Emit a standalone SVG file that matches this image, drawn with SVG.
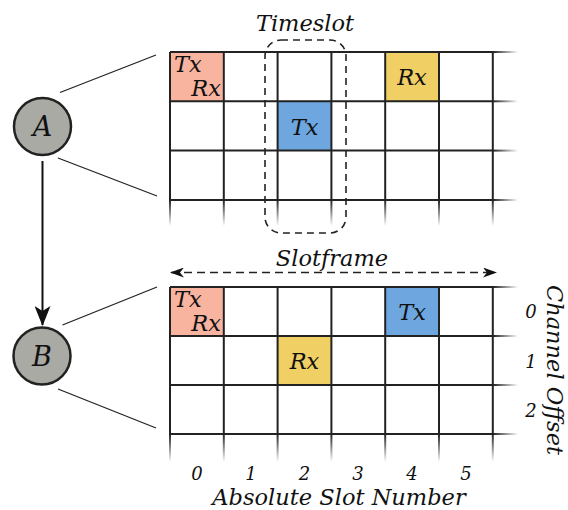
<svg xmlns="http://www.w3.org/2000/svg" width="568" height="510" viewBox="0 0 568 510">
<defs>
<linearGradient id="fadeH" x1="0" y1="0" x2="1" y2="0"><stop offset="0" stop-color="#222"/><stop offset="1" stop-color="#222" stop-opacity="0"/></linearGradient>
<linearGradient id="fadeV" x1="0" y1="0" x2="0" y2="1"><stop offset="0" stop-color="#222"/><stop offset="1" stop-color="#222" stop-opacity="0"/></linearGradient>
<marker id="ah" viewBox="0 0 20 16" refX="19" refY="8" markerWidth="20" markerHeight="16" markerUnits="userSpaceOnUse" orient="auto"><path d="M0,0 L20,8 L0,16 L5,8 Z" fill="#111"/></marker>
<marker id="sm" viewBox="0 0 14 10" refX="13" refY="5" markerWidth="14" markerHeight="10" markerUnits="userSpaceOnUse" orient="auto-start-reverse"><path d="M0,0 L14,5 L0,10 L4,5 Z" fill="#111"/></marker>
</defs>
<style>
text{font-family:"DejaVu Serif",serif;font-style:italic;fill:#111}
.lab{font-size:22.5px}
.num{font-size:18px;text-anchor:middle}
.g{stroke:#222;stroke-width:2;fill:none}
.hs{fill:url(#fadeH)}
.vs{fill:url(#fadeV)}
.lnk{stroke:#222;stroke-width:1.3}
.node{fill:#aaaaa5;stroke:#222;stroke-width:2.5}
.sal{fill:#f9b4a0}.blu{fill:#6ea6e0}.yel{fill:#f0d064}
</style>

<g id="grid-A">
<rect class="sal" x="170" y="52" width="53.8" height="49.3"/>
<rect class="blu" x="277.6" y="101.3" width="53.8" height="49.3"/>
<rect class="yel" x="385.2" y="52" width="53.8" height="49.3"/>
<path class="g" d="M170,52H493M170,101.3H493M170,150.6H493M170,200H493M170,52V200M223.8,52V200M277.6,52V200M331.4,52V200M385.2,52V200M439,52V200M492.8,52V200"/>
<rect class="hs" x="493" y="51" width="25" height="2"/>
<rect class="hs" x="493" y="100.3" width="25" height="2"/>
<rect class="hs" x="493" y="149.6" width="25" height="2"/>
<rect class="hs" x="493" y="199" width="25" height="2"/>
<rect class="vs" x="169" y="200" width="2" height="26"/>
<rect class="vs" x="222.8" y="200" width="2" height="26"/>
<rect class="vs" x="276.6" y="200" width="2" height="26"/>
<rect class="vs" x="330.4" y="200" width="2" height="26"/>
<rect class="vs" x="384.2" y="200" width="2" height="26"/>
<rect class="vs" x="438" y="200" width="2" height="26"/>
<rect class="vs" x="491.8" y="200" width="2" height="26"/>
<text class="lab" x="174" y="72">Tx</text>
<text class="lab" x="221" y="96" text-anchor="end">Rx</text>
<text class="lab" x="304.5" y="135" text-anchor="middle">Tx</text>
<text class="lab" x="412" y="85" text-anchor="middle">Rx</text>
</g>

<g id="timeslot">
<rect x="265" y="40" width="81" height="193" rx="16" ry="16" fill="none" stroke="#222" stroke-width="1.6" stroke-dasharray="7,5"/>
<text class="lab" x="305" y="31" text-anchor="middle">Timeslot</text>
</g>

<g id="slotframe">
<line x1="171" y1="272.5" x2="496" y2="272.5" stroke="#222" stroke-width="1.6" stroke-dasharray="8,5" marker-start="url(#sm)" marker-end="url(#sm)"/>
<text class="lab" x="332" y="266" text-anchor="middle">Slotframe</text>
</g>

<g id="grid-B">
<rect class="sal" x="170" y="287" width="53.8" height="49"/>
<rect class="blu" x="385.2" y="287" width="53.8" height="49"/>
<rect class="yel" x="277.6" y="336" width="53.8" height="49"/>
<path class="g" d="M170,287H493M170,336H493M170,385H493M170,434H493M170,287V434M223.8,287V434M277.6,287V434M331.4,287V434M385.2,287V434M439,287V434M492.8,287V434"/>
<rect class="hs" x="493" y="286" width="25" height="2"/>
<rect class="hs" x="493" y="335" width="25" height="2"/>
<rect class="hs" x="493" y="384" width="25" height="2"/>
<rect class="hs" x="493" y="433" width="25" height="2"/>
<rect class="vs" x="169" y="434" width="2" height="28"/>
<rect class="vs" x="222.8" y="434" width="2" height="28"/>
<rect class="vs" x="276.6" y="434" width="2" height="28"/>
<rect class="vs" x="330.4" y="434" width="2" height="28"/>
<rect class="vs" x="384.2" y="434" width="2" height="28"/>
<rect class="vs" x="438" y="434" width="2" height="28"/>
<rect class="vs" x="491.8" y="434" width="2" height="28"/>
<text class="lab" x="174" y="307">Tx</text>
<text class="lab" x="221" y="331" text-anchor="end">Rx</text>
<text class="lab" x="412" y="320" text-anchor="middle">Tx</text>
<text class="lab" x="304.5" y="369" text-anchor="middle">Rx</text>
</g>

<g id="axes">
<text class="num" x="197" y="480">0</text>
<text class="num" x="251" y="480">1</text>
<text class="num" x="304.5" y="480">2</text>
<text class="num" x="358" y="480">3</text>
<text class="num" x="412" y="480">4</text>
<text class="num" x="466" y="480">5</text>
<text class="lab" x="339" y="505" text-anchor="middle">Absolute Slot Number</text>
<text class="num" x="531" y="318">0</text>
<text class="num" x="531" y="368">1</text>
<text class="num" x="531" y="417">2</text>
<text class="lab" transform="translate(547,370) rotate(90)" text-anchor="middle">Channel Offset</text>
</g>

<g id="connectors">
<line class="lnk" x1="60" y1="92.5" x2="156" y2="55"/>
<line class="lnk" x1="58" y1="158" x2="157" y2="196"/>
<line class="lnk" x1="62.5" y1="325" x2="157" y2="287"/>
<line class="lnk" x1="58" y1="389" x2="156" y2="428"/>
<line x1="42.5" y1="161" x2="42.5" y2="325" stroke="#111" stroke-width="2" marker-end="url(#ah)"/>
</g>

<g id="node-A">
<circle class="node" cx="42.5" cy="126.5" r="28.5"/>
<text x="42.5" y="136" text-anchor="middle" font-size="27">A</text>
</g>
<g id="node-B">
<circle class="node" cx="42" cy="356" r="28.5"/>
<text x="42" y="365.5" text-anchor="middle" font-size="27">B</text>
</g>
</svg>
